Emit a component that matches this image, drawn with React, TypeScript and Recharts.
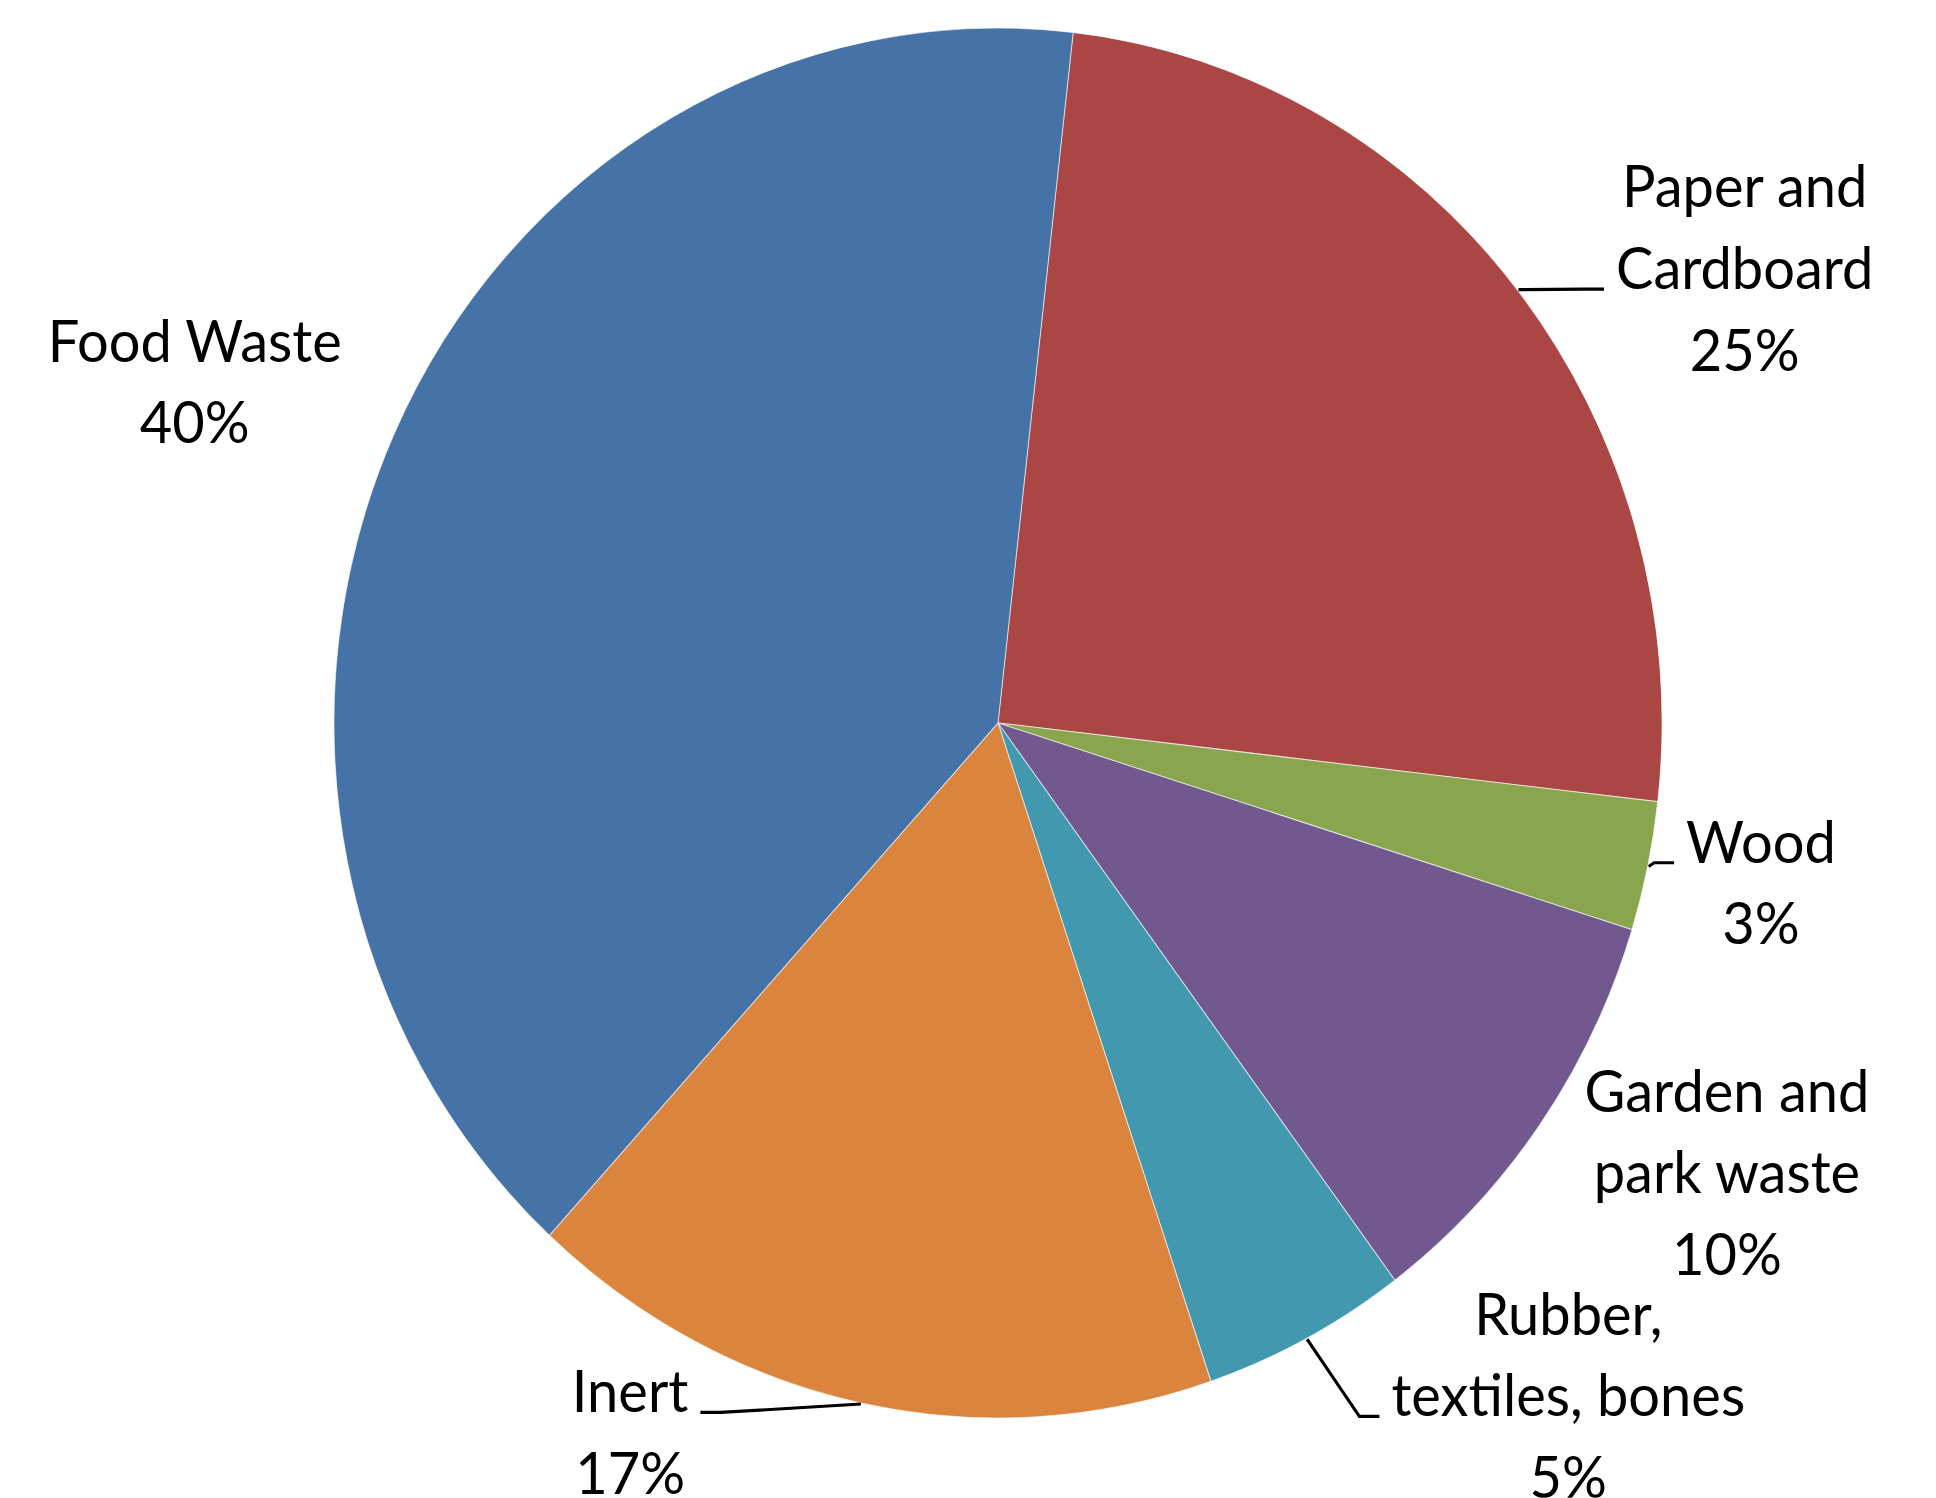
import React from "react";
import { PieChart, Pie, Cell } from "recharts";

// Municipal solid waste composition (percent of total)
const categories = [
  "Paper and\nCardboard",
  "Wood",
  "Garden and\npark waste",
  "Rubber,\ntextiles, bones",
  "Inert",
  "Food Waste",
];
const shares = [25, 3, 10, 5, 17, 40];
const colors = ["#AA4643", "#89A54E", "#71588F", "#4198AF", "#DB843D", "#4572A7"];

// Excel "best fit" label layout, relative to each slice's mid angle
const labelAngleShift = [-8.3, 0.6, 4.8, 13.9, -16.6, 2.4];
const labelDistance = [200, 114, 182, 195, 107, 203];
const hasLeader = [true, true, false, true, true, false];

const W = 1936;
const H = 1498;
const STRETCH = 1.0467; // source picture is slightly taller than wide
const FONT = "Lato, 'Open Sans', sans-serif";
const FONT_SIZE = 56;
const LINE_H = 78;
const CAP = 0.72 * FONT_SIZE;
const RAD = Math.PI / 180;

const data = categories.map((name, i) => ({ name, value: shares[i] }));

let ctx: CanvasRenderingContext2D | null = null;
function textWidth(s: string) {
  if (!ctx) {
    ctx = document.createElement("canvas").getContext("2d");
    if (ctx) ctx.font = `${FONT_SIZE}px Lato`;
  }
  return ctx ? ctx.measureText(s).width : s.length * FONT_SIZE * 0.5;
}

function renderLabel(props: any) {
  const { cx, cy, midAngle, outerRadius, index, percent } = props;
  const ang = (midAngle + labelAngleShift[index]) * RAD;
  const r = outerRadius + labelDistance[index];
  const x = cx + r * Math.cos(ang);
  const yc = cy - r * Math.sin(ang);
  const lines = [...categories[index].split("\n"), `${Math.round(percent * 100)}%`];
  const n = lines.length;
  const firstBaseline = yc - ((n - 1) / 2) * LINE_H + CAP / 2;
  const anchor = Math.floor((n - 1) / 2);

  let leader = null;
  if (hasLeader[index]) {
    const sx = cx + (outerRadius + 1) * Math.cos(midAngle * RAD);
    const sy = cy - (outerRadius + 1) * Math.sin(midAngle * RAD);
    const side = x > cx ? 1 : -1;
    const half = textWidth(lines[anchor]) / 2;
    const ex = x - side * (half + 12);
    const ey = firstBaseline + anchor * LINE_H;
    const elbowX = ex - side * 20;
    leader = (
      <polyline
        points={`${sx},${sy} ${elbowX},${ey} ${ex},${ey}`}
        fill="none"
        stroke="#000"
        strokeWidth={3}
      />
    );
  }

  return (
    <g>
      {leader}
      <text
        textAnchor="middle"
        fill="#000"
        style={{ fontFamily: FONT, fontSize: FONT_SIZE }}
      >
        {lines.map((l, i) => (
          <tspan key={i} x={x} y={firstBaseline + i * LINE_H}>
            {l}
          </tspan>
        ))}
      </text>
    </g>
  );
}

export default function App() {
  return (
    <div
      style={{
        position: "absolute",
        left: 0,
        top: 0,
        width: W,
        height: H / STRETCH,
        background: "#fff",
        transform: `scaleY(${STRETCH})`,
        transformOrigin: "0 0",
      }}
    >
      <PieChart
        width={W}
        height={H / STRETCH}
        margin={{ top: 0, right: 0, bottom: 0, left: 0 }}
      >
        <Pie
          data={data}
          dataKey="value"
          nameKey="name"
          cx={998}
          cy={690.7}
          outerRadius={664}
          startAngle={83.5}
          endAngle={-276.5}
          stroke="#ffffff"
          strokeOpacity={0.6}
          strokeWidth={1}
          label={renderLabel}
          labelLine={false}
          isAnimationActive={false}
        >
          {data.map((d, i) => (
            <Cell key={d.name} fill={colors[i]} />
          ))}
        </Pie>
      </PieChart>
    </div>
  );
}
